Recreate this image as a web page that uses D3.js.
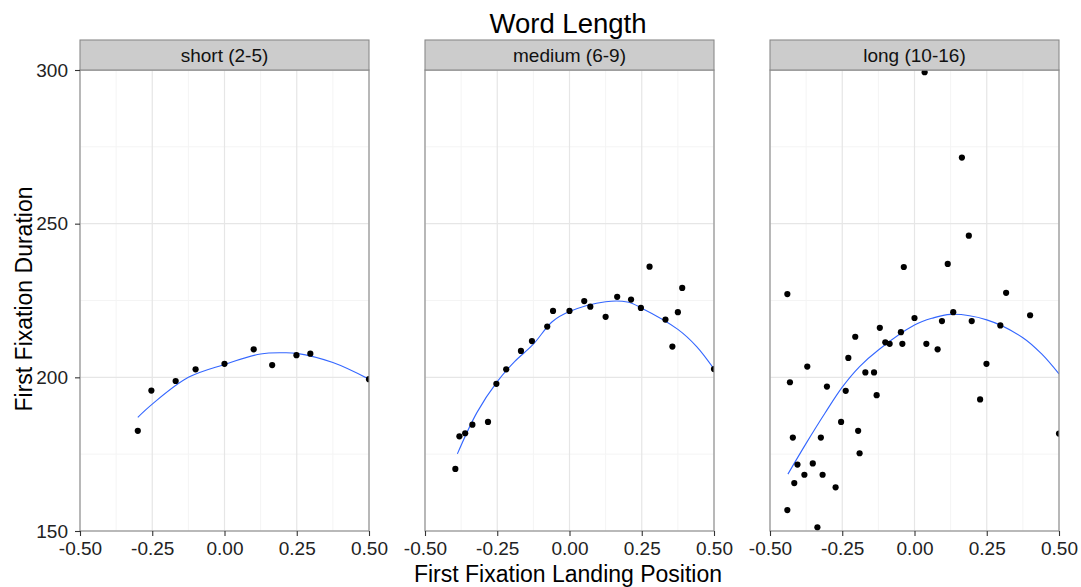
<!DOCTYPE html>
<html>
<head>
<meta charset="utf-8">
<script src="https://cdn.jsdelivr.net/npm/d3@7"></script>
<style>
  html, body { margin: 0; padding: 0; background: #fff; }
  text { font-family: "Liberation Sans", Arial, sans-serif; }
</style>
</head>
<body>
<svg id="chart" width="1081" height="587"></svg>
<script>
// Facet labels
const panels = ["short (2-5)", "medium (6-9)", "long (10-16)"];

// Observed means: landing position (x) and first fixation duration (y)
const shortX = [-0.30, -0.253, -0.169, -0.100, 0.0, 0.101, 0.165, 0.249, 0.297, 0.5];
const shortY = [182.6, 195.7, 198.8, 202.6, 204.4, 209.1, 204.0, 207.2, 207.7, 199.4];

const mediumX = [-0.395, -0.381, -0.361, -0.336, -0.282, -0.253, -0.219, -0.168, -0.130, -0.077, -0.057, 0.0,
                 0.051, 0.072, 0.125, 0.165, 0.213, 0.247, 0.277, 0.332, 0.356, 0.375, 0.390, 0.5];
const mediumY = [170.2, 180.8, 181.8, 184.6, 185.5, 197.9, 202.6, 208.6, 211.8, 216.5, 221.6, 221.6,
                 224.8, 223.0, 219.7, 226.2, 225.3, 222.6, 236.0, 218.8, 210.0, 221.2, 229.1, 202.7];

const longX = [-0.440, -0.431, -0.421, -0.405, -0.416, -0.440, -0.381, -0.371, -0.352, -0.336, -0.324, -0.318,
               -0.303, -0.273, -0.254, -0.238, -0.229, -0.205, -0.195, -0.190, -0.170, -0.140, -0.131, -0.120,
               -0.101, -0.086, -0.047, -0.042, -0.037, 0.0, 0.035, 0.041, 0.080, 0.095, 0.115, 0.134, 0.164,
               0.188, 0.198, 0.227, 0.249, 0.297, 0.317, 0.400, 0.5];
const longY = [227.1, 198.4, 180.4, 171.6, 165.6, 156.8, 168.3, 203.5, 172.0, 151.2, 180.4, 168.3,
               197.0, 164.2, 185.5, 195.6, 206.3, 213.2, 182.6, 175.3, 201.6, 201.6, 194.2, 216.1,
               211.4, 210.9, 214.7, 210.9, 235.9, 219.3, 299.3, 210.9, 209.1, 218.3, 236.9, 221.2, 271.5,
               246.1, 218.3, 192.8, 204.4, 216.9, 227.5, 220.2, 181.7];

// Smoothed trend for each facet
const shortFitX = [-0.30, -0.25, -0.125, 0.0, 0.125, 0.2, 0.25, 0.375, 0.5];
const shortFitY = [187.0, 191.3, 200.0, 204.2, 207.6, 208.0, 207.8, 204.8, 199.4];

const mediumFitX = [-0.388, -0.32, -0.25, -0.19, -0.125, -0.06, 0.0, 0.125, 0.2, 0.25, 0.375, 0.44, 0.5];
const mediumFitY = [175.1, 188.6, 198.6, 205.1, 210.8, 218.1, 221.4, 224.6, 224.5, 222.5, 215.6, 210.0, 202.7];

const longFitX = [-0.438, -0.375, -0.31, -0.25, -0.19, -0.125, 0.0, 0.06, 0.125, 0.25, 0.375, 0.44, 0.5];
const longFitY = [168.5, 178.5, 188.3, 196.8, 203.5, 208.9, 217.0, 219.2, 220.5, 218.7, 212.9, 207.6, 201.1];

// Axis ticks
const xTicks = [-0.5, -0.25, 0, 0.25, 0.5];
const xMinor = [-0.375, -0.125, 0.125, 0.375];
const yTicks = [150, 200, 250, 300];
const yMinor = [175, 225, 275];

const pointSets = [
  d3.zip(shortX, shortY),
  d3.zip(mediumX, mediumY),
  d3.zip(longX, longY)
];
const fitSets = [
  d3.zip(shortFitX, shortFitY),
  d3.zip(mediumFitX, mediumFitY),
  d3.zip(longFitX, longFitY)
];

const svg = d3.select("#chart");
const panelLefts = [80, 425, 770];
const panelW = 289;
const panelTop = 70, panelBottom = 531, stripH = 30;
const tickFont = 19;

const y = d3.scaleLinear().domain([150, 300]).range([panelBottom, panelTop]);

svg.append("text")
  .attr("x", 568).attr("y", 33)
  .attr("text-anchor", "middle")
  .attr("font-size", 27.5)
  .attr("fill", "#000")
  .text("Word Length");

panels.forEach((label, i) => {
  const x0 = panelLefts[i];
  const x = d3.scaleLinear().domain([-0.5, 0.5]).range([x0, x0 + panelW]);
  const g = svg.append("g");
  const clipId = "clip" + i;
  svg.append("clipPath").attr("id", clipId)
    .append("rect").attr("x", x0).attr("y", panelTop).attr("width", panelW).attr("height", panelBottom - panelTop);

  // minor grid
  g.selectAll(".vminor").data(xMinor).join("line")
    .attr("x1", d => x(d)).attr("x2", d => x(d)).attr("y1", panelTop).attr("y2", panelBottom)
    .attr("stroke", "#f4f4f4").attr("stroke-width", 1);
  g.selectAll(".hminor").data(yMinor).join("line")
    .attr("x1", x0).attr("x2", x0 + panelW).attr("y1", d => y(d)).attr("y2", d => y(d))
    .attr("stroke", "#f4f4f4").attr("stroke-width", 1);
  // major grid
  g.selectAll(".vmajor").data(xTicks).join("line")
    .attr("x1", d => x(d)).attr("x2", d => x(d)).attr("y1", panelTop).attr("y2", panelBottom)
    .attr("stroke", "#e6e6e6").attr("stroke-width", 1.2);
  g.selectAll(".hmajor").data(yTicks).join("line")
    .attr("x1", x0).attr("x2", x0 + panelW).attr("y1", d => y(d)).attr("y2", d => y(d))
    .attr("stroke", "#e6e6e6").attr("stroke-width", 1.2);

  const plot = g.append("g").attr("clip-path", `url(#${clipId})`);

  // smooth line
  plot.append("path")
    .datum(fitSets[i])
    .attr("fill", "none")
    .attr("stroke", "#3366FF")
    .attr("stroke-width", 1.1)
    .attr("d", d3.line().x(d => x(d[0])).y(d => y(d[1])).curve(d3.curveCatmullRom));

  // points
  plot.selectAll("circle").data(pointSets[i]).join("circle")
    .attr("cx", d => x(d[0])).attr("cy", d => y(d[1]))
    .attr("r", 3.1).attr("fill", "#000");

  // panel border
  g.append("rect")
    .attr("x", x0).attr("y", panelTop).attr("width", panelW).attr("height", panelBottom - panelTop)
    .attr("fill", "none").attr("stroke", "#8a8a8a").attr("stroke-width", 1.1);

  // strip
  g.append("rect")
    .attr("x", x0).attr("y", panelTop - stripH).attr("width", panelW).attr("height", stripH)
    .attr("fill", "#cccccc").attr("stroke", "#8a8a8a").attr("stroke-width", 1.1);
  g.append("text")
    .attr("x", x0 + panelW / 2).attr("y", panelTop - 8)
    .attr("text-anchor", "middle")
    .attr("font-size", 19)
    .attr("fill", "#111")
    .text(label);

  // x axis
  const xAxis = svg.append("g")
    .attr("transform", `translate(0,${panelBottom})`)
    .call(d3.axisBottom(x).tickValues(xTicks).tickSize(5).tickPadding(6));
  xAxis.select(".domain").remove();
  xAxis.selectAll("line").attr("stroke", "#333").attr("stroke-width", 1.1);
  xAxis.selectAll("text").attr("font-size", tickFont).attr("fill", "#222")
    .attr("font-family", "Liberation Sans, Arial, sans-serif")
    .text(d => d3.format(".2f")(d).replace("−", "-"));

  if (i === 0) {
    const yAxis = svg.append("g")
      .attr("transform", `translate(${x0},0)`)
      .call(d3.axisLeft(y).tickValues(yTicks).tickSize(5).tickPadding(7));
    yAxis.select(".domain").remove();
    yAxis.selectAll("line").attr("stroke", "#333").attr("stroke-width", 1.1);
    yAxis.selectAll("text").attr("font-size", tickFont).attr("fill", "#222")
      .attr("font-family", "Liberation Sans, Arial, sans-serif");
  }
});

svg.append("text")
  .attr("x", 568).attr("y", 582)
  .attr("text-anchor", "middle")
  .attr("font-size", 23)
  .attr("fill", "#000")
  .text("First Fixation Landing Position");

svg.append("text")
  .attr("transform", "translate(32,299) rotate(-90)")
  .attr("text-anchor", "middle")
  .attr("font-size", 23)
  .attr("fill", "#000")
  .text("First Fixation Duration");
</script>
</body>
</html>
